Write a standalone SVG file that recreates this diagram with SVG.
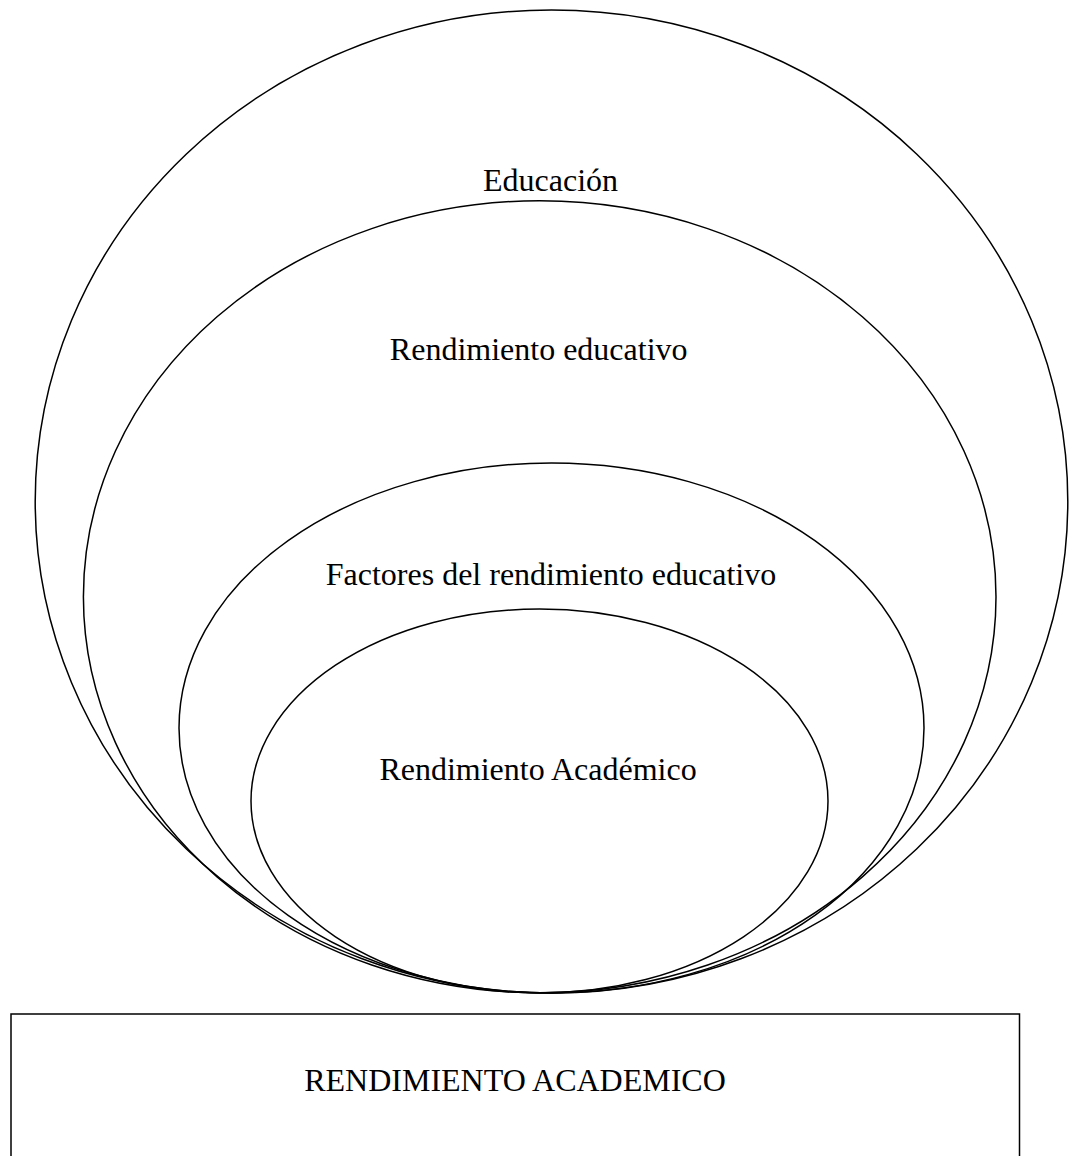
<svg xmlns="http://www.w3.org/2000/svg" width="1072" height="1156" viewBox="0 0 1072 1156">
<style>
.sh{fill:none;stroke:#000;stroke-width:1.5}
.t{font-family:"Liberation Serif","Times New Roman",serif;font-size:32px;fill:#000;text-anchor:middle}
</style>
<rect width="1072" height="1156" fill="#fff"/>
<g id="educacion">
<ellipse class="sh" cx="551.5" cy="501.5" rx="516.3" ry="491.5"/>
<text class="t" x="550.5" y="191">Educación</text>
</g>
<g id="rendimiento-educativo">
<ellipse class="sh" cx="539.7" cy="596.8" rx="456.3" ry="396"/>
<text class="t" x="538.7" y="360">Rendimiento educativo</text>
</g>
<g id="factores">
<ellipse class="sh" cx="551.5" cy="728" rx="372.5" ry="265"/>
<text class="t" x="551" y="585">Factores del rendimiento educativo</text>
</g>
<g id="rendimiento-academico">
<ellipse class="sh" cx="539.5" cy="801" rx="288.5" ry="192"/>
<text class="t" x="538" y="780">Rendimiento Académico</text>
</g>
<g id="caja">
<rect class="sh" x="11" y="1014" width="1008.5" height="160"/>
<text class="t" x="515" y="1091">RENDIMIENTO ACADEMICO</text>
</g>
<g id="connectors"></g>
</svg>
